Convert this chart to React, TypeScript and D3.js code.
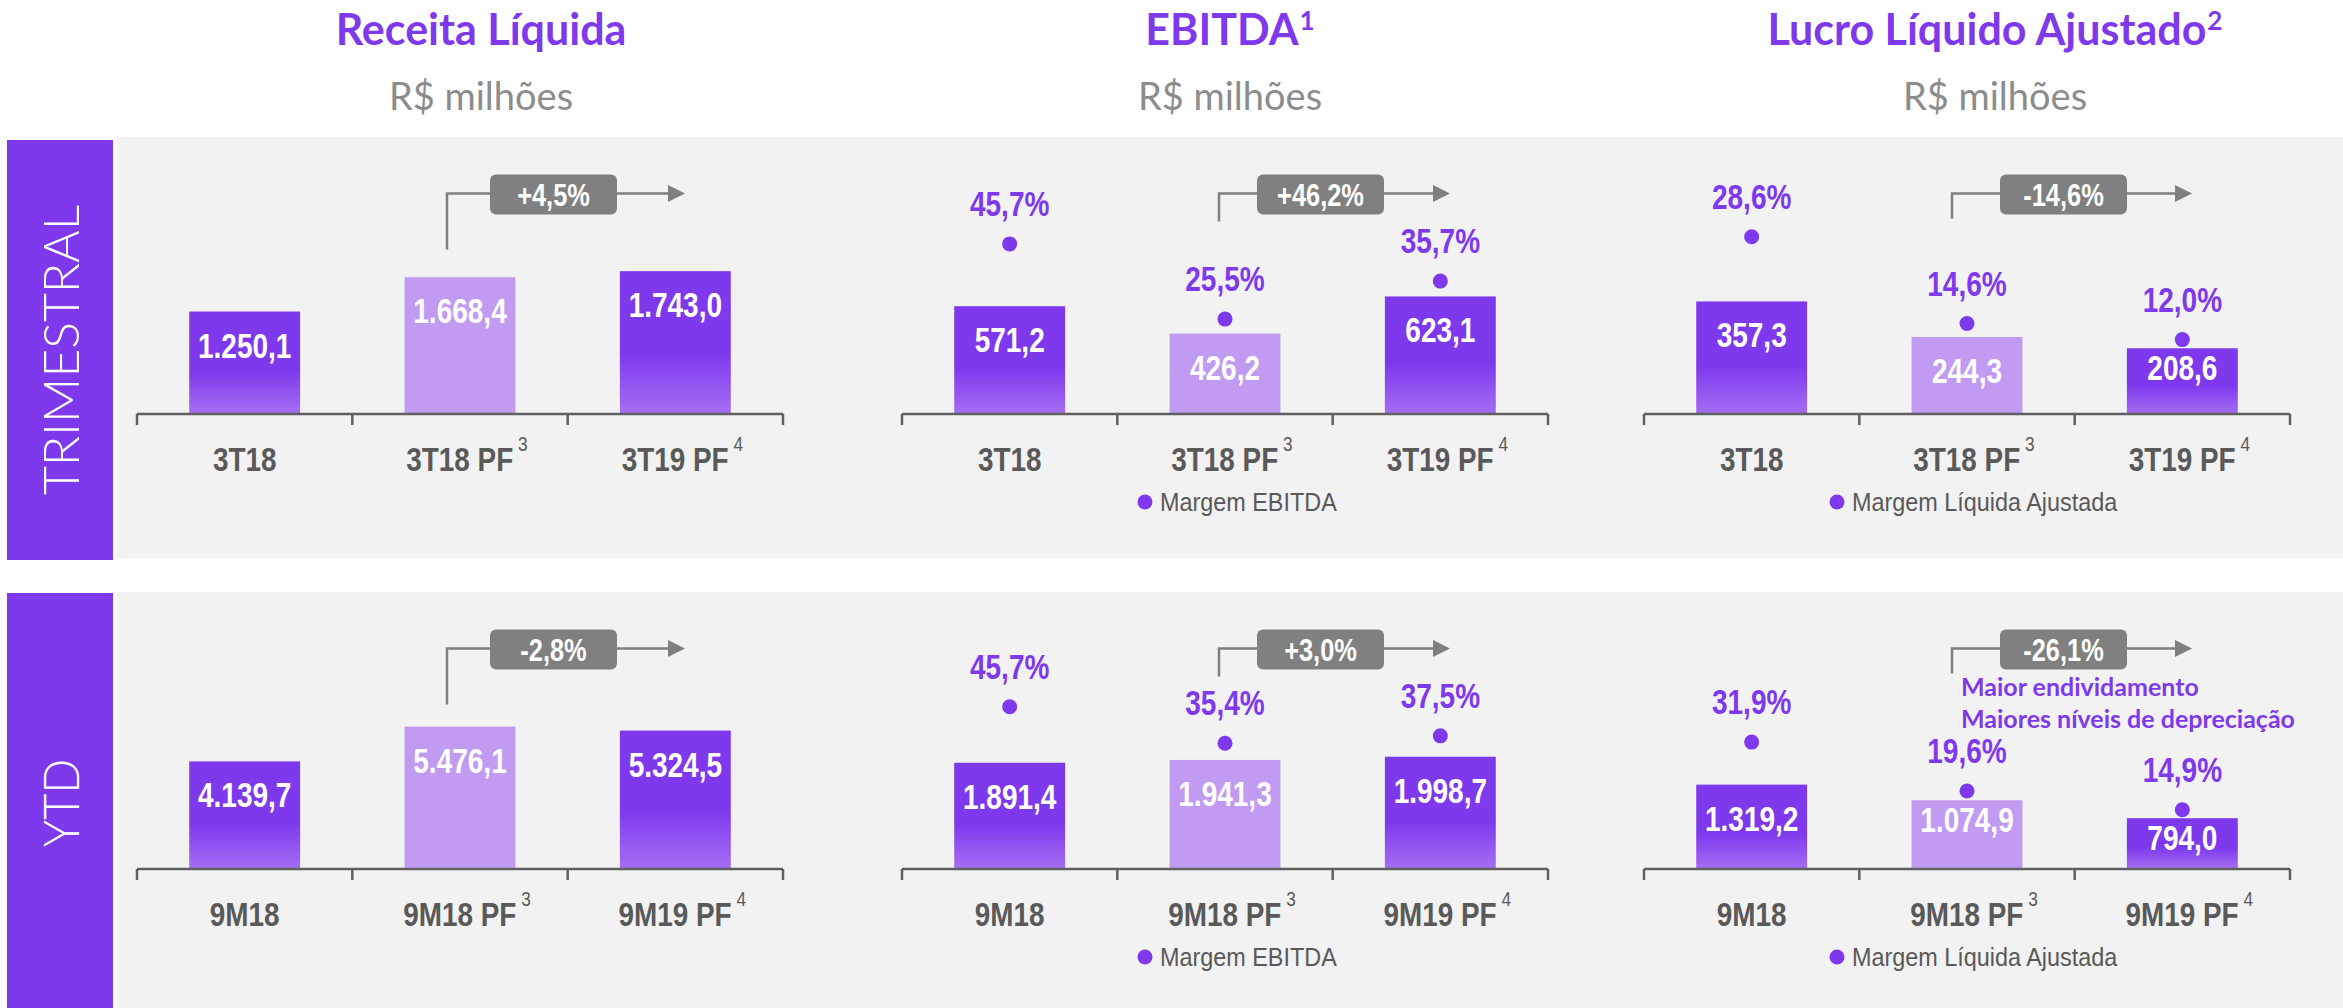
import React from "react";
import * as d3 from "d3";

// categories
const categoriesTri = ["3T18", "3T18 PF", "3T19 PF"];
const categoriesYtd = ["9M18", "9M18 PF", "9M19 PF"];
const categoryNotes = ["", "3", "4"];
const rowLabels = ["TRIMESTRAL", "YTD"];

// R$ milhões
const receitaTri = [1250.1, 1668.4, 1743.0];
const receitaYtd = [4139.7, 5476.1, 5324.5];
const ebitdaTri = [571.2, 426.2, 623.1];
const ebitdaYtd = [1891.4, 1941.3, 1998.7];
const lucroTri = [357.3, 244.3, 208.6];
const lucroYtd = [1319.2, 1074.9, 794.0];

// margens (%)
const margemEbitdaTri = [45.7, 25.5, 35.7];
const margemEbitdaYtd = [45.7, 35.4, 37.5];
const margemLucroTri = [28.6, 14.6, 12.0];
const margemLucroYtd = [31.9, 19.6, 14.9];

// axis maxima (value at 300px above the baseline)
const barMaxTri = [3660, 1590, 952];
const barMaxYtd = [11540, 5340, 4690];
const marginMaxTri = [0, 80.6, 48.4];
const marginMaxYtd = [0, 84.5, 75.4];

const titles = ["Receita Líquida", "EBITDA", "Lucro Líquido Ajustado"];
const titleNotes = ["", "1", "2"];
const legendLabels = ["", "Margem EBITDA", "Margem Líquida Ajustada"];
const lucroNotes = ["Maior endividamento", "Maiores níveis de depreciação"];

const W = 2343;
const H = 1008;
const purple = "#7F39ED";
const lilac = "#C19BF1";
const darkGray = "#595959";
const boxGray = "#808080";

const rowAxisY = [414, 869];
const rowTop = [137, 592];
const rowBottom = [558, 1008];
const sideTop = [140, 593];
const sideBottom = [560, 1008];
const sideTextY = [350, 803];
const sideTextLen = [290, 88];
const panelX0 = [137, 902, 1644];
const panelW = 646;
const titleCX = [481, 1230, 1995];
const legendDX = [0, 243, 193];
const annoDX = [-13, -6, -15];
const boxDX = [43, 38, 48];
const arrowLen = [238, 231, 240];
const annoDrop = [56, 28, 25];

const ptBR = d3.formatLocale({
  decimal: ",",
  thousands: ".",
  grouping: [3],
  currency: ["R$", ""],
  minus: "-",
});
const fmtValue = ptBR.format(",.1f");
const fmtPct = ptBR.format(".1f");
const fmtChange = ptBR.format("+.1f");

const barSeries = [
  [receitaTri, receitaYtd],
  [ebitdaTri, ebitdaYtd],
  [lucroTri, lucroYtd],
];
const marginSeries = [
  [null, null],
  [margemEbitdaTri, margemEbitdaYtd],
  [margemLucroTri, margemLucroYtd],
];

const NARROW = "'Liberation Sans', Arial, sans-serif";

function Narrow({ x, y, size, fill, weight = "bold", squeeze = 0.82, anchor = "middle", children }: any) {
  return (
    <text
      transform={`translate(${x},${y}) scale(${squeeze},1)`}
      fontFamily={NARROW}
      fontSize={size}
      fontWeight={weight}
      fill={fill}
      textAnchor={anchor}
    >
      {children}
    </text>
  );
}

function Panel({ row, col }: { row: number; col: number }) {
  const axisY = rowAxisY[row];
  const values = barSeries[col][row];
  const margins = marginSeries[col][row];
  const cats = row === 0 ? categoriesTri : categoriesYtd;
  const x0 = panelX0[col];

  const x = d3
    .scaleBand<number>()
    .domain([0, 1, 2])
    .range([x0, x0 + panelW])
    .paddingInner(0.485)
    .paddingOuter(0.2425);
  const y = d3
    .scaleLinear()
    .domain([0, (row === 0 ? barMaxTri : barMaxYtd)[col]])
    .range([axisY, axisY - 300]);
  const m = d3
    .scaleLinear()
    .domain([0, (row === 0 ? marginMaxTri : marginMaxYtd)[col] || 1])
    .range([axisY, axisY - 300]);

  const step = x.step();
  const cx = (i: number) => (x(i) as number) + x.bandwidth() / 2;

  // variation annotation 2 -> 3
  const change = fmtChange((values[2] / values[1] - 1) * 100) + "%";
  const lx = cx(1) + annoDX[col];
  const ly = axisY - 220.5;
  const end = lx + arrowLen[col];
  const bx = lx + boxDX[col];

  return (
    <g>
      {values.map((v, i) => {
        const top = y(v);
        const h = axisY - top;
        return (
          <g key={i}>
            <rect
              x={x(i)}
              y={top}
              width={x.bandwidth()}
              height={h}
              fill={i === 1 ? lilac : "url(#barGrad)"}
            />
            <Narrow x={cx(i)} y={top + (h < 70 ? 32 : 46)} size={35} fill="#fff" squeeze={0.8}>
              {fmtValue(v)}
            </Narrow>
          </g>
        );
      })}

      <line x1={x0} x2={x0 + panelW} y1={axisY} y2={axisY} stroke="#5f5f5f" strokeWidth={2.5} />
      {d3.range(4).map((i) => (
        <line
          key={i}
          x1={x0 + i * step}
          x2={x0 + i * step}
          y1={axisY}
          y2={axisY + 11}
          stroke="#5f5f5f"
          strokeWidth={2.5}
        />
      ))}

      {cats.map((c, i) => (
        <Narrow key={c} x={cx(i) + (categoryNotes[i] ? 7 : 0)} y={axisY + 57} size={34} fill={darkGray}>
          {c}
          {categoryNotes[i] && (
            <tspan dx={6} dy={-20} fontSize={21} fontWeight="normal">
              {categoryNotes[i]}
            </tspan>
          )}
        </Narrow>
      ))}

      {margins &&
        margins.map((v, i) => (
          <g key={"m" + i}>
            <circle cx={cx(i)} cy={m(v)} r={7.5} fill={purple} />
            <Narrow x={cx(i)} y={m(v) - 28} size={35} fill={purple} squeeze={0.8}>
              {fmtPct(v)}%
            </Narrow>
          </g>
        ))}

      {margins && (
        <g>
          <circle cx={x0 + legendDX[col]} cy={axisY + 88} r={7.5} fill={purple} />
          <Narrow
            x={x0 + legendDX[col] + 15}
            y={axisY + 97}
            size={26}
            weight="normal"
            fill={darkGray}
            squeeze={0.9}
            anchor="start"
          >
            {legendLabels[col]}
          </Narrow>
        </g>
      )}

      <g>
        <path
          d={`M${lx},${ly + annoDrop[col]}V${ly}H${end - 16}`}
          fill="none"
          stroke="#7f7f7f"
          strokeWidth={2.5}
        />
        <path d={`M${end - 17},${ly - 8.5}L${end},${ly}L${end - 17},${ly + 8.5}Z`} fill="#7f7f7f" />
        <rect x={bx} y={ly - 19} width={127} height={40} rx={6} fill={boxGray} />
        <Narrow x={bx + 63.5} y={ly + 12} size={31} fill="#fff" squeeze={0.82}>
          {change}
        </Narrow>
      </g>

      {col === 2 && row === 1 && (
        <g fontFamily="Lato, sans-serif" fontWeight={700} fontSize={25} fill={purple}>
          {lucroNotes.map((t, i) => (
            <text key={t} x={lx + 9} y={ly + 47 + i * 32}>
              {t}
            </text>
          ))}
        </g>
      )}
    </g>
  );
}

export default function App() {
  return (
    <svg
      width={W}
      height={H}
      viewBox={`0 0 ${W} ${H}`}
      style={{ position: "absolute", left: 0, top: 0, background: "#fff" }}
    >
      <defs>
        <linearGradient id="barGrad" x1="0" y1="0" x2="0" y2="1">
          <stop offset="0" stopColor={purple} />
          <stop offset="0.58" stopColor={purple} />
          <stop offset="1" stopColor="#A46FF3" />
        </linearGradient>
      </defs>

      {titles.map((t, i) => (
        <g key={t}>
          <text
            x={titleCX[i]}
            y={45}
            textAnchor="middle"
            fontFamily="Lato, sans-serif"
            fontWeight={700}
            fontSize={43}
            fill={purple}
          >
            {t}
            {titleNotes[i] && (
              <tspan dx={1} dy={-15} fontSize={26}>
                {titleNotes[i]}
              </tspan>
            )}
          </text>
          <text
            x={titleCX[i]}
            y={110}
            textAnchor="middle"
            fontFamily="Lato, sans-serif"
            fontSize={38}
            fill="#8c8c8c"
          >
            R$ milhões
          </text>
        </g>
      ))}

      {rowLabels.map((label, r) => (
        <g key={label}>
          <rect x={117} y={rowTop[r]} width={W - 117} height={rowBottom[r] - rowTop[r]} fill="#f2f2f2" />
          <rect x={7} y={sideTop[r]} width={106} height={sideBottom[r] - sideTop[r]} fill={purple} />
          <text
            transform={`translate(79,${sideTextY[r]}) rotate(-90)`}
            textAnchor="middle"
            fontFamily="Lato, sans-serif"
            fontWeight={300}
            fontSize={50}
            fill="#fff"
            textLength={sideTextLen[r]}
            lengthAdjust="spacingAndGlyphs"
          >
            {label}
          </text>
          {[0, 1, 2].map((c) => (
            <Panel key={c} row={r} col={c} />
          ))}
        </g>
      ))}
    </svg>
  );
}
